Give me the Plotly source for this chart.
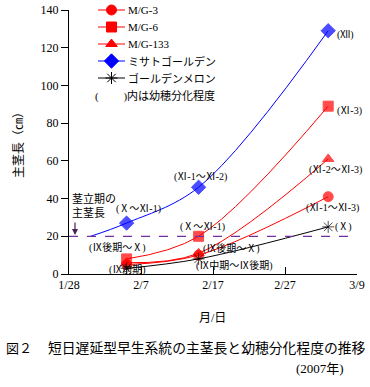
import plotly.graph_objects as go
import pandas as pd

dates = ["2007-02-05", "2007-02-15", "2007-03-05"]
misato_dates = ["2007-01-31", "2007-02-05", "2007-02-15", "2007-03-05"]
mg3 = [5, 10, 41]
mg6 = [8, 20, 89]
mg133 = [6, 11, 61]
misato = [20, 27, 46, 129]
melon = [3, 8, 25]
stage_line = 20
series_names = ["M/G-3", "M/G-6", "M/G-133", "ミサトゴールデン", "ゴールデンメロン"]

FONT = "Liberation Serif, Noto Sans CJK JP, serif"
styles = [
    dict(color="red", symbol="circle", size=10),
    dict(color="red", symbol="square", size=10),
    dict(color="red", symbol="triangle-up", size=10),
    dict(color="blue", symbol="diamond", size=11),
    dict(color="black", symbol="asterisk-open", size=10),
]

# plot area in page pixels
L, R, T, B = 69, 357, 10, 274
X0, X1 = pd.Timestamp("2007-01-28"), pd.Timestamp("2007-03-09")
Y0, Y1 = 0, 140


def px(x):
    return (x - L) / (R - L)


def py(y):
    return (B - y) / (B - T)


def pdate(x):
    return X0 + (X1 - X0) * px(x)


def pval(y):
    return Y0 + (Y1 - Y0) * py(y)


def ptext(x, y, text, size=11, xanchor="center"):
    fig.add_annotation(x=px(x), y=py(y), xref="paper", yref="paper", text=text,
                       showarrow=False, xanchor=xanchor, yanchor="middle", align="left",
                       font=dict(size=size, family=FONT, color="black"))


fig = go.Figure()
series = [(dates, mg3), (dates, mg6), (dates, mg133), (misato_dates, misato), (dates, melon)]
for (xs, ys), nm, st in zip(series, series_names, styles):
    sizes = [st["size"]] * len(ys)
    if nm == "ミサトゴールデン":
        sizes[0] = 0
    fig.add_trace(go.Scatter(
        x=xs, y=ys, name=nm, mode="lines+markers", showlegend=False, cliponaxis=False,
        line=dict(color=st["color"], width=1, shape="spline"),
        marker=dict(symbol=st["symbol"], size=sizes, color=st["color"],
                    line=dict(color=st["color"], width=1))))

# legend (manual)
leg_y = [10, 27, 44, 61, 78]
for i, (nm, st) in enumerate(zip(series_names, styles)):
    y = leg_y[i]
    fig.add_shape(type="line", xref="paper", yref="paper", x0=px(98), x1=px(125),
                  y0=py(y), y1=py(y), line=dict(color=st["color"], width=1))
    fig.add_trace(go.Scatter(x=[pdate(111.5)], y=[pval(y)], mode="markers",
                             showlegend=False, cliponaxis=False, hoverinfo="skip",
                             marker=dict(symbol=st["symbol"], size=st["size"], color=st["color"],
                                         line=dict(color=st["color"], width=1))))
    ptext(126, y, nm, 11, "left")
ptext(93, 96, "(　　 )内は幼穂分化程度", 11, "left")

fig.add_shape(type="line", xref="paper", yref="y", x0=0, x1=1, y0=stage_line, y1=stage_line,
              line=dict(color="#7030A0", width=1.2, dash="dash"))

anns = [
    ("2007-03-05", 129, "(Ⅻ)", 17, -4),
    ("2007-03-05", 89, "(Ⅺ-3)", 21, -5),
    ("2007-03-05", 61, "(Ⅺ-2～Ⅺ-3)", 7, -11),
    ("2007-03-05", 41, "(Ⅺ-1～Ⅺ-3)", 4, -11),
    ("2007-03-05", 25, "(Ⅹ)", 15, 0),
    ("2007-02-15", 46, "(Ⅺ-1～Ⅺ-2)", 2, 10),
    ("2007-02-05", 27, "(Ⅹ～Ⅺ-1)", 12, 14),
    ("2007-02-15", 20, "(Ⅹ～Ⅺ-1)", 4, 9),
    ("2007-02-05", 8, "(Ⅸ後期～Ⅹ)", -9, 11),
    ("2007-02-05", 3, "(Ⅸ前期)", 1, -1),
    ("2007-02-15", 11, "(Ⅸ後期～Ⅹ)", 33, 5),
    ("2007-02-15", 8, "(Ⅸ中期～Ⅸ後期)", 36, -7),
]
for x, y, t, dx, dy in anns:
    fig.add_annotation(x=x, y=y, text=t, showarrow=False, xshift=dx, yshift=dy,
                       xanchor="center", yanchor="middle",
                       font=dict(size=10, family=FONT, color="black"))

ptext(70, 198, "茎立期の", 11, "left")
ptext(70, 213, "主茎長", 11, "left")
fig.add_annotation(x=px(75), y=py(235), xref="paper", yref="paper", ax=0, ay=-14,
                   text="", showarrow=True, arrowhead=2, arrowsize=1, arrowwidth=1.2,
                   arrowcolor="#4B1E5A")

ptext(212, 318, "月/日", 12)
ptext(4, 348, "図２", 13, "left")
ptext(46, 348, "短日遅延型早生系統の主茎長と幼穂分化程度の推移", 13.8, "left")
ptext(320, 368, "(2007年)", 13)

fig.update_layout(
    width=370, height=387,
    margin=dict(l=L, r=370 - R, t=T, b=387 - B, autoexpand=False),
    paper_bgcolor="white", plot_bgcolor="white",
    font=dict(family=FONT, size=12, color="black"),
    showlegend=False,
)
fig.layout.xaxis.update(type="date", range=["2007-01-28", "2007-03-09"], dtick=10 * 86400000,
                        tick0="2007-01-28", tickformat="%-m/%-d", showgrid=False,
                        showline=True, linecolor="black", linewidth=1, automargin=False,
                        ticks="inside", ticklen=7, tickcolor="black", zeroline=False,
                        tickfont=dict(size=12))
fig.layout.yaxis.update(range=[Y0, Y1], dtick=20, showgrid=False, showline=True,
                        linecolor="black", linewidth=1, ticks="outside", ticklen=7,
                        tickcolor="black", zeroline=False, tickfont=dict(size=12),
                        automargin=False,
                        title=dict(text="主茎長（㎝）", font=dict(size=12), standoff=14))

fig.write_html("out.html", config={"displayModeBar": False},
               post_script="document.body.style.margin='0';")
